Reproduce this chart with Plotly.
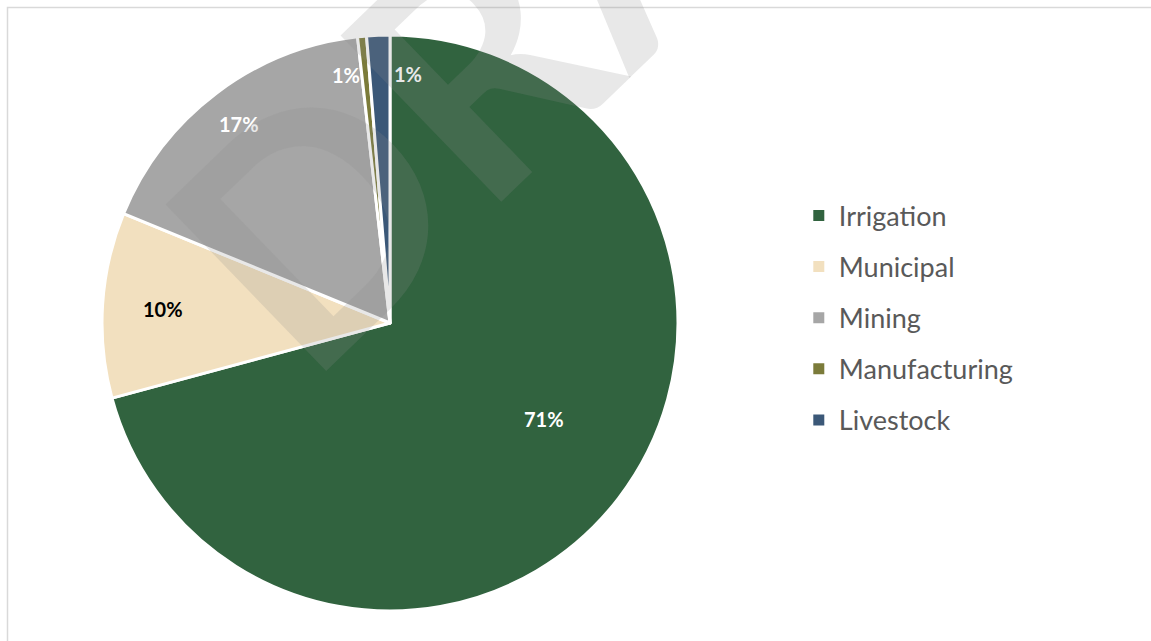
import math
import plotly.graph_objects as go

# ---- data ----
categories = ["Irrigation", "Municipal", "Mining", "Manufacturing", "Livestock"]
shares = [70.8, 10.4, 17.0, 0.5, 1.3]
colors = ["#31633F", "#F2E0BF", "#A6A6A6", "#7B7B3A", "#3B5878"]
label_colors = ["white", "black", "white", "white", "white"]

W, H = 1151, 641
CX, CY, R = 390, 323, 288

total = sum(shares)
pct = [s / total * 100 for s in shares]

fig = go.Figure()
fig.add_trace(go.Pie(
    labels=categories, values=shares, sort=False, direction="clockwise", rotation=0,
    marker=dict(colors=colors, line=dict(color="white", width=3)),
    textinfo="none",
    showlegend=False, hoverinfo="label+percent",
    domain=dict(x=[(CX - R) / W, (CX + R) / W], y=[(H - CY - R) / H, (H - CY + R) / H]),
))

# legend entries (one per category, spaced like the original)
for name, col in zip(categories, colors):
    fig.add_trace(go.Scatter(
        x=[None], y=[None], mode="markers", name=name, legendgroup=name,
        marker=dict(symbol="square", size=11, color=col), hoverinfo="skip",
    ))

# data labels placed along each slice's mid-angle ("best fit" look)
label_r = [0.63, 0.79, 0.868, 0.865, 0.865]
label_dx = [10, 0, 0, -20, 28]
label_dy = [-14, 0, 0, 0, 0]
annotations = []
cum = 0.0
for i, p in enumerate(pct):
    mid = (cum + p / 2) / 100 * 2 * math.pi
    cum += p
    rr = label_r[i] * R
    px = CX + rr * math.sin(mid) + label_dx[i]
    py = CY - rr * math.cos(mid) + label_dy[i]
    annotations.append(dict(
        x=px / W, y=1 - py / H, xref="paper", yref="paper", showarrow=False,
        xanchor="center", yanchor="middle",
        text=f"{int(p + 0.5)}%",
        font=dict(family="Lato", size=20, color=label_colors[i], weight="bold"),
    ))

# faint DRAFT watermark
annotations.append(dict(
    x=597 / W, y=1 + 63 / H, xref="paper", yref="paper", showarrow=False,
    xanchor="center", yanchor="middle",
    text="DRAFT", textangle=-44,
    font=dict(family="Lato", size=320, color="rgba(140,140,140,0.2)", weight="bold"),
))

fig.update_layout(
    width=W, height=H,
    margin=dict(l=0, r=0, t=0, b=0),
    paper_bgcolor="white", plot_bgcolor="white",
    xaxis=dict(visible=False), yaxis=dict(visible=False),
    showlegend=True,
    legend=dict(
        x=0.694, y=0.504, xanchor="left", yanchor="middle",
        font=dict(family="Lato", size=27, color="#595959"),
        tracegroupgap=13, bgcolor="rgba(0,0,0,0)",
    ),
    annotations=annotations,
    shapes=[dict(
        type="rect", xref="paper", yref="paper",
        x0=7.5 / W, x1=1.02, y0=-0.02, y1=1 - 7.5 / H,
        line=dict(color="#D9D9D9", width=1.5), fillcolor="rgba(0,0,0,0)",
    )],
)

fig.write_html("out.html")
